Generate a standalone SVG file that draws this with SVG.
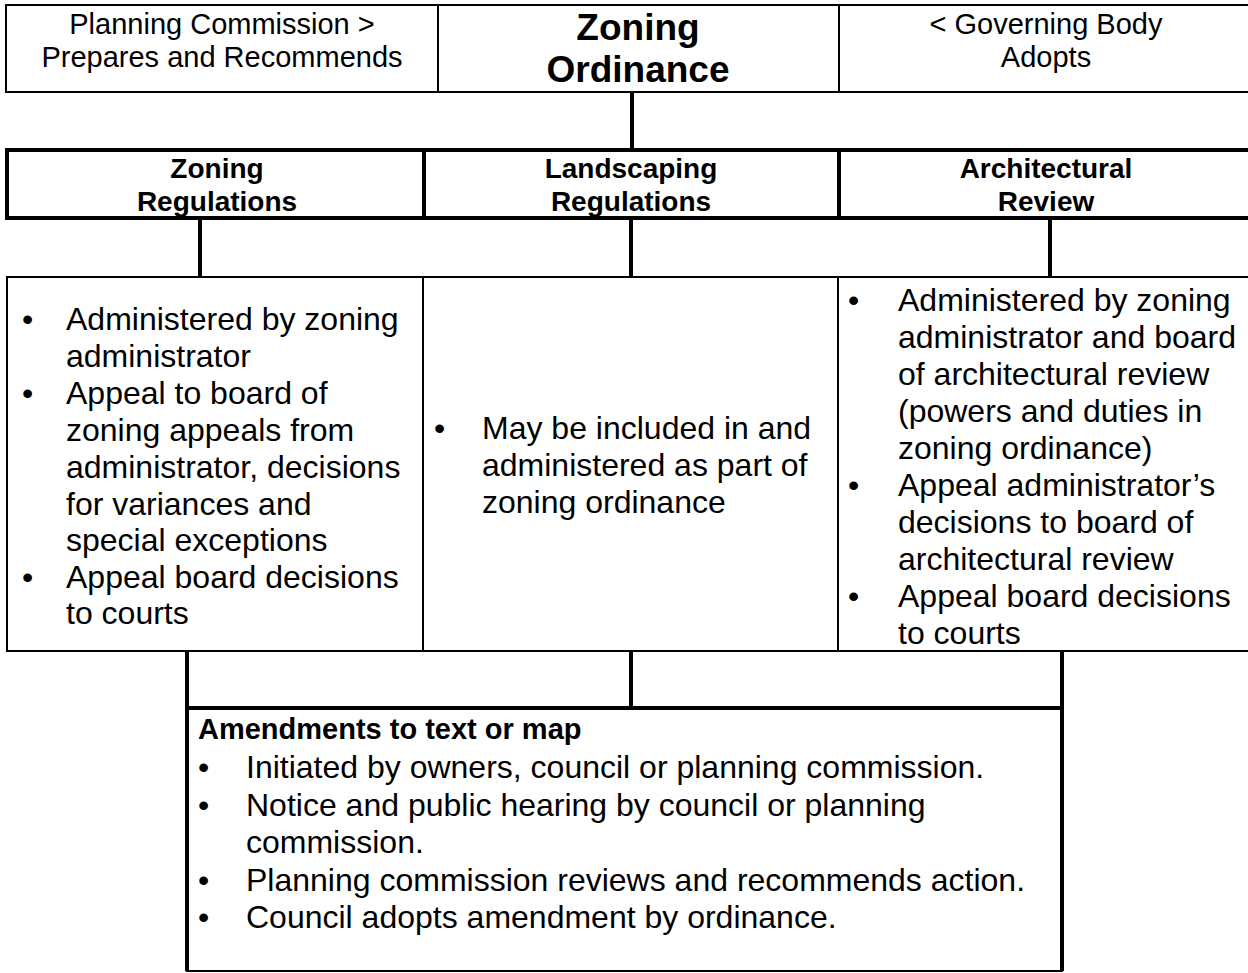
<svg xmlns="http://www.w3.org/2000/svg" width="1248" height="973" viewBox="0 0 1248 973">
<style>
.thin{fill:none;stroke:#000;stroke-width:2}
.thick{fill:none;stroke:#000;stroke-width:4}
.ln{stroke:#000;stroke-width:4}
text{font-family:"Liberation Sans",Arial,sans-serif;fill:#000}
.hd{font-size:29px}
.big{font-size:37px;font-weight:bold}
.reg{font-size:28px;font-weight:bold}
.bl{font-size:32px}
.amh{font-size:29px;font-weight:bold}
</style>
<rect width="1248" height="973" fill="#fff"/>
<g id="top-row">
<rect class="thin" x="6" y="5" width="1260" height="87"/>
<line class="thin" x1="438" y1="5" x2="438" y2="92"/>
<line class="thin" x1="839" y1="5" x2="839" y2="92"/>
</g>
<g id="planning-commission">
<text class="hd" x="222" y="34" text-anchor="middle">Planning Commission &gt;</text>
<text class="hd" x="222" y="67" text-anchor="middle">Prepares and Recommends</text>
</g>
<g id="zoning-ordinance">
<text class="big" x="638" y="40" text-anchor="middle">Zoning</text>
<text class="big" x="638" y="82" text-anchor="middle">Ordinance</text>
</g>
<g id="governing-body">
<text class="hd" x="1046" y="34" text-anchor="middle">&lt; Governing Body</text>
<text class="hd" x="1046" y="67" text-anchor="middle">Adopts</text>
</g>
<g id="connectors">
<line class="ln" x1="632" y1="92" x2="632" y2="150"/>
<line class="ln" x1="200" y1="218" x2="200" y2="277"/>
<line class="ln" x1="631" y1="218" x2="631" y2="277"/>
<line class="ln" x1="1050" y1="218" x2="1050" y2="277"/>
<line class="ln" x1="187" y1="651" x2="187" y2="708"/>
<line class="ln" x1="631" y1="651" x2="631" y2="708"/>
<line class="ln" x1="1062" y1="651" x2="1062" y2="708"/>
</g>
<g id="reg-row">
<rect class="thick" x="7" y="150" width="1260" height="68"/>
<line class="ln" x1="424" y1="150" x2="424" y2="218"/>
<line class="ln" x1="839" y1="150" x2="839" y2="218"/>
</g>
<g id="zoning-regulations">
<text class="reg" x="217" y="178" text-anchor="middle">Zoning</text>
<text class="reg" x="217" y="211" text-anchor="middle">Regulations</text>
</g>
<g id="landscaping-regulations">
<text class="reg" x="631" y="178" text-anchor="middle">Landscaping</text>
<text class="reg" x="631" y="211" text-anchor="middle">Regulations</text>
</g>
<g id="architectural-review">
<text class="reg" x="1046" y="178" text-anchor="middle">Architectural</text>
<text class="reg" x="1046" y="211" text-anchor="middle">Review</text>
</g>
<g id="bullet-row">
<rect class="thin" x="7" y="277" width="1260" height="374"/>
<line class="thin" x1="423" y1="277" x2="423" y2="651"/>
<line class="thin" x1="838" y1="277" x2="838" y2="651"/>
</g>
<g id="zoning-details" class="bl">
<text x="22" y="330">•</text>
<text x="66" y="330">Administered by zoning</text>
<text x="66" y="367">administrator</text>
<text x="22" y="404">•</text>
<text x="66" y="404">Appeal to board of</text>
<text x="66" y="441">zoning appeals from</text>
<text x="66" y="478">administrator, decisions</text>
<text x="66" y="515">for variances and</text>
<text x="66" y="551">special exceptions</text>
<text x="22" y="588">•</text>
<text x="66" y="588">Appeal board decisions</text>
<text x="66" y="624">to courts</text>
</g>
<g id="landscaping-details" class="bl">
<text x="434" y="439">•</text>
<text x="482" y="439">May be included in and</text>
<text x="482" y="476">administered as part of</text>
<text x="482" y="513">zoning ordinance</text>
</g>
<g id="architectural-details" class="bl">
<text x="848" y="311">•</text>
<text x="898" y="311">Administered by zoning</text>
<text x="898" y="348">administrator and board</text>
<text x="898" y="385">of architectural review</text>
<text x="898" y="422">(powers and duties in</text>
<text x="898" y="459">zoning ordinance)</text>
<text x="848" y="496">•</text>
<text x="898" y="496">Appeal administrator’s</text>
<text x="898" y="533">decisions to board of</text>
<text x="898" y="570">architectural review</text>
<text x="848" y="607">•</text>
<text x="898" y="607">Appeal board decisions</text>
<text x="898" y="644">to courts</text>
</g>
<g id="amendments">
<rect class="thin" x="187" y="708" width="875" height="263"/>
<line class="ln" x1="187" y1="708" x2="1062" y2="708"/>
<line class="ln" x1="187" y1="708" x2="187" y2="971"/>
<line class="ln" x1="1062" y1="708" x2="1062" y2="971"/>
<text class="amh" x="198" y="739">Amendments to text or map</text>
<g class="bl">
<text x="198" y="778">•</text>
<text x="246" y="778">Initiated by owners, council or planning commission.</text>
<text x="198" y="816">•</text>
<text x="246" y="816">Notice and public hearing by council or planning</text>
<text x="246" y="853">commission.</text>
<text x="198" y="891">•</text>
<text x="246" y="891">Planning commission reviews and recommends action.</text>
<text x="198" y="928">•</text>
<text x="246" y="928">Council adopts amendment by ordinance.</text>
</g>
</g>
</svg>
